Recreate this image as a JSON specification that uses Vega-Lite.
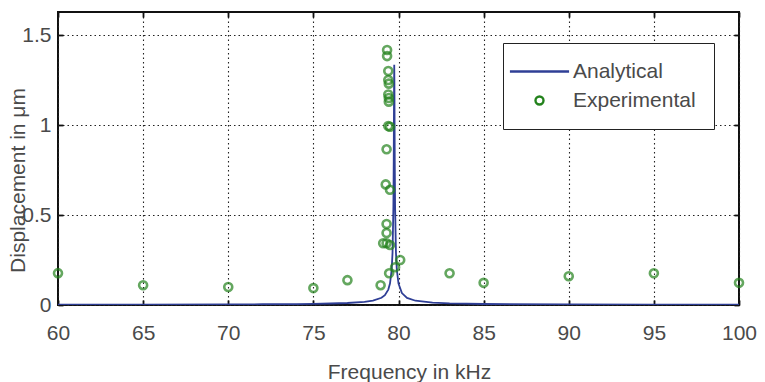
{
  "$schema": "https://vega.github.io/schema/vega-lite/v6.json",
  "width": 681,
  "height": 293,
  "autosize": {"type": "none"},
  "padding": {"left": 58, "top": 12, "right": 26, "bottom": 77},
  "background": "white",
  "config": {
    "view": {"stroke": "#111111", "strokeWidth": 2},
    "font": "Liberation Sans",
    "axis": {
      "labelFont": "Liberation Sans",
      "labelFontSize": 21,
      "labelColor": "#4a4a4a",
      "labelFlush": false,
      "labelOverlap": false,
      "titleFont": "Liberation Sans",
      "titleFontSize": 21,
      "titleFontWeight": "normal",
      "titleColor": "#4a4a4a",
      "domain": false,
      "tickColor": "#111111",
      "tickWidth": 1.8,
      "gridColor": "#222222",
      "gridDash": [1.5, 3],
      "gridWidth": 1.1,
      "gridOpacity": 1
    }
  },
  "datasets": {
    "analytical": [
      {"f": 60, "d": 0.0017, "s": "Analytical"},
      {"f": 65, "d": 0.0022, "s": "Analytical"},
      {"f": 70, "d": 0.0033, "s": "Analytical"},
      {"f": 72, "d": 0.0041, "s": "Analytical"},
      {"f": 74, "d": 0.0054, "s": "Analytical"},
      {"f": 75, "d": 0.0065, "s": "Analytical"},
      {"f": 76, "d": 0.0082, "s": "Analytical"},
      {"f": 77, "d": 0.0111, "s": "Analytical"},
      {"f": 78, "d": 0.0173, "s": "Analytical"},
      {"f": 78.5, "d": 0.0241, "s": "Analytical"},
      {"f": 79, "d": 0.0401, "s": "Analytical"},
      {"f": 79.2, "d": 0.0545, "s": "Analytical"},
      {"f": 79.4, "d": 0.0856, "s": "Analytical"},
      {"f": 79.5, "d": 0.1193, "s": "Analytical"},
      {"f": 79.6, "d": 0.1973, "s": "Analytical"},
      {"f": 79.65, "d": 0.2917, "s": "Analytical"},
      {"f": 79.7, "d": 0.5478, "s": "Analytical"},
      {"f": 79.72, "d": 0.8, "s": "Analytical"},
      {"f": 79.74, "d": 1.2255, "s": "Analytical"},
      {"f": 79.75, "d": 1.335, "s": "Analytical"},
      {"f": 79.76, "d": 1.2255, "s": "Analytical"},
      {"f": 79.78, "d": 0.8, "s": "Analytical"},
      {"f": 79.8, "d": 0.546, "s": "Analytical"},
      {"f": 79.85, "d": 0.2917, "s": "Analytical"},
      {"f": 79.9, "d": 0.197, "s": "Analytical"},
      {"f": 80, "d": 0.1193, "s": "Analytical"},
      {"f": 80.2, "d": 0.0662, "s": "Analytical"},
      {"f": 80.5, "d": 0.0397, "s": "Analytical"},
      {"f": 81, "d": 0.0237, "s": "Analytical"},
      {"f": 82, "d": 0.0131, "s": "Analytical"},
      {"f": 83, "d": 0.009, "s": "Analytical"},
      {"f": 85, "d": 0.0055, "s": "Analytical"},
      {"f": 90, "d": 0.0027, "s": "Analytical"},
      {"f": 95, "d": 0.0018, "s": "Analytical"},
      {"f": 100, "d": 0.0013, "s": "Analytical"}
    ],
    "experimental": [
      {"f": 60, "d": 0.177, "s": "Experimental"},
      {"f": 65, "d": 0.11, "s": "Experimental"},
      {"f": 70, "d": 0.10, "s": "Experimental"},
      {"f": 75, "d": 0.094, "s": "Experimental"},
      {"f": 77, "d": 0.138, "s": "Experimental"},
      {"f": 78.95, "d": 0.11, "s": "Experimental"},
      {"f": 79.45, "d": 0.176, "s": "Experimental"},
      {"f": 79.8, "d": 0.21, "s": "Experimental"},
      {"f": 80.1, "d": 0.25, "s": "Experimental"},
      {"f": 79.1, "d": 0.343, "s": "Experimental"},
      {"f": 79.3, "d": 0.343, "s": "Experimental"},
      {"f": 79.5, "d": 0.333, "s": "Experimental"},
      {"f": 79.3, "d": 0.40, "s": "Experimental"},
      {"f": 79.3, "d": 0.45, "s": "Experimental"},
      {"f": 79.25, "d": 0.67, "s": "Experimental"},
      {"f": 79.5, "d": 0.64, "s": "Experimental"},
      {"f": 79.3, "d": 0.865, "s": "Experimental"},
      {"f": 79.4, "d": 0.994, "s": "Experimental"},
      {"f": 79.5, "d": 0.99, "s": "Experimental"},
      {"f": 79.43, "d": 1.13, "s": "Experimental"},
      {"f": 79.43, "d": 1.15, "s": "Experimental"},
      {"f": 79.4, "d": 1.17, "s": "Experimental"},
      {"f": 79.43, "d": 1.23, "s": "Experimental"},
      {"f": 79.4, "d": 1.25, "s": "Experimental"},
      {"f": 79.4, "d": 1.30, "s": "Experimental"},
      {"f": 79.33, "d": 1.383, "s": "Experimental"},
      {"f": 79.33, "d": 1.417, "s": "Experimental"},
      {"f": 83, "d": 0.176, "s": "Experimental"},
      {"f": 85, "d": 0.123, "s": "Experimental"},
      {"f": 90, "d": 0.16, "s": "Experimental"},
      {"f": 95, "d": 0.176, "s": "Experimental"},
      {"f": 100, "d": 0.123, "s": "Experimental"}
    ]
  },
  "layer": [
    {
      "data": {"name": "analytical"},
      "mark": {"type": "line", "strokeWidth": 1.8, "clip": true},
      "encoding": {
        "x": {
          "field": "f", "type": "quantitative",
          "scale": {"domain": [60, 100], "nice": false, "zero": false},
          "axis": {
            "orient": "bottom",
            "values": [60, 65, 70, 75, 80, 85, 90, 95, 100],
            "grid": true,
            "ticks": true,
            "tickSize": -5,
            "labelPadding": 22,
            "title": "Frequency in kHz",
            "titleX": 351,
            "titleY": 67,
            "titleAlign": "center",
            "titleBaseline": "middle"
          }
        },
        "y": {
          "field": "d", "type": "quantitative",
          "scale": {"domain": [0, 1.628], "nice": false},
          "axis": {
            "orient": "left",
            "values": [0, 0.5, 1, 1.5],
            "format": "~g",
            "grid": true,
            "ticks": true,
            "tickSize": -5,
            "labelPadding": 12,
            "title": "Displacement in μm",
            "titleX": -40,
            "titleY": 168,
            "titleAngle": -90,
            "titleAlign": "center",
            "titleBaseline": "middle"
          }
        },
        "color": {
          "field": "s", "type": "nominal",
          "scale": {"domain": ["Analytical", "Experimental"], "range": ["#2f3f96", "#23821c"]},
          "legend": {
            "orient": "none", "legendX": 445, "legendY": 31,
            "title": null,
            "strokeColor": "#222222", "fillColor": "white",
            "padding": 18, "rowPadding": 7,
            "labelFont": "Liberation Sans", "labelFontSize": 21, "labelColor": "#4a4a4a",
            "symbolStrokeWidth": 2.4, "symbolOffset": 8, "labelOffset": 23,
            "encode": {"symbols": {"update": {"size": {"signal": "datum.value === 'Analytical' ? 3500 : 64"}}}}
          }
        }
      }
    },
    {
      "data": {"name": "experimental"},
      "mark": {"type": "point", "filled": false, "size": 64, "strokeWidth": 2.6, "clip": false},
      "encoding": {
        "x": {
          "field": "f", "type": "quantitative",
          "axis": {
            "orient": "top", "values": [60, 65, 70, 75, 80, 85, 90, 95, 100],
            "labels": false, "grid": false, "ticks": true, "tickSize": -5, "title": null
          }
        },
        "y": {
          "field": "d", "type": "quantitative",
          "axis": {
            "orient": "right", "values": [0, 0.5, 1, 1.5],
            "labels": false, "grid": false, "ticks": true, "tickSize": -5, "title": null
          }
        },
        "color": {
          "field": "s", "type": "nominal",
          "scale": {"domain": ["Analytical", "Experimental"], "range": ["#2f3f96", "#23821c"]},
          "legend": {
            "orient": "none", "legendX": 445, "legendY": 31,
            "title": null,
            "strokeColor": "#222222", "fillColor": "white",
            "padding": 18, "rowPadding": 7,
            "labelFont": "Liberation Sans", "labelFontSize": 21, "labelColor": "#4a4a4a",
            "symbolStrokeWidth": 2.4, "symbolOffset": 8, "labelOffset": 23,
            "encode": {"symbols": {"update": {"size": {"signal": "datum.value === 'Analytical' ? 3500 : 64"}}}}
          }
        },
        "shape": {
          "field": "s", "type": "nominal",
          "scale": {"domain": ["Analytical", "Experimental"], "range": ["stroke", "circle"]},
          "legend": {
            "orient": "none", "legendX": 445, "legendY": 31,
            "title": null,
            "strokeColor": "#222222", "fillColor": "white",
            "padding": 18, "rowPadding": 7,
            "labelFont": "Liberation Sans", "labelFontSize": 21, "labelColor": "#4a4a4a",
            "symbolStrokeWidth": 2.4, "symbolOffset": 8, "labelOffset": 23,
            "encode": {"symbols": {"update": {"size": {"signal": "datum.value === 'Analytical' ? 3500 : 64"}}}}
          }
        }
      }
    }
  ],
  "resolve": {"axis": {"x": "independent", "y": "independent"}}
}
